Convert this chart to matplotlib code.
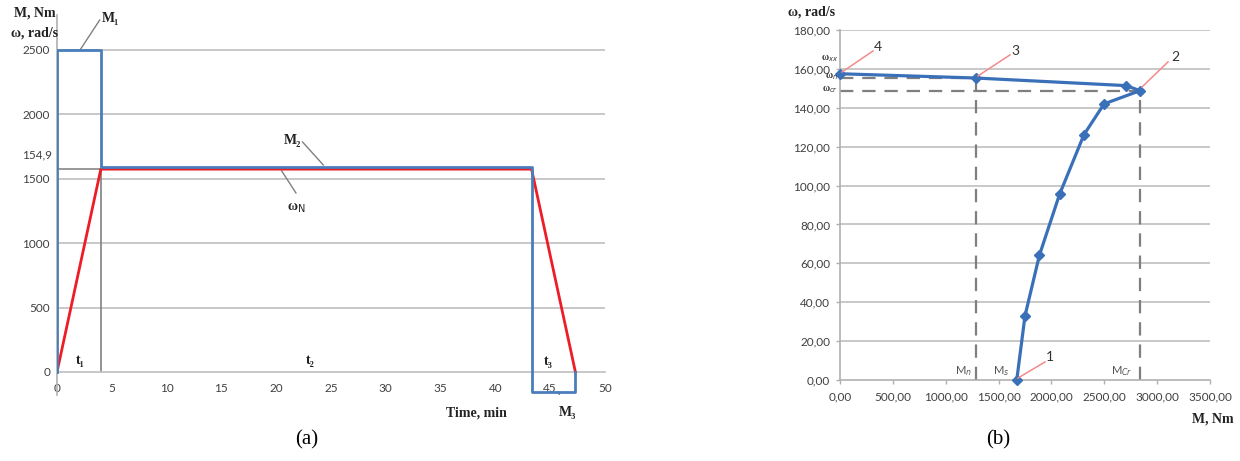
import matplotlib
matplotlib.use("Agg")
import matplotlib.pyplot as plt
from matplotlib.ticker import FuncFormatter

# ---------------- data: chart (a) ----------------
t_M = [0, 0, 4, 4, 43.3, 43.3, 47.3, 47.3]          # time, min
M_vals = [0, 2500, 2500, 1595, 1595, -155, -155, 0]  # torque, Nm
t_w = [0, 4, 43.3, 47.3]
w_vals = [0, 1575, 1575, 0]                          # speed (scaled)
yticks_a = [0, 500, 1000, 1500, 2000, 2500]
xticks_a = [0, 5, 10, 15, 20, 25, 30, 35, 40, 45, 50]

# ---------------- data: chart (b) ----------------
M_curve = [1672, 1750, 1887, 2077, 2308, 2498, 2838, 2706, 1287, 0]
w_curve = [0.0, 33.0, 64.3, 95.5, 126.2, 142.0, 148.8, 151.4, 155.3, 157.5]
M_nom, w_nom = 1287, 155.3
M_cr, w_cr = 2838, 148.8
yticks_b = [0, 20, 40, 60, 80, 100, 120, 140, 160, 180]
xticks_b = [0, 500, 1000, 1500, 2000, 2500, 3000, 3500]

W, H = 1240, 461
fig = plt.figure(figsize=(W / 100, H / 100), dpi=100)
fig.patch.set_facecolor("white")

BLUE = "#4a7ebb"
RED = "#ee1c25"
GRID = "#c4c4c4"
TICKC = "#404040"
SERIF = ["Liberation Serif", "DejaVu Serif", "DejaVu Sans"]
SANS = ["Lato", "DejaVu Sans"]

def fx(px):
    return px / W

def fy(py):
    return 1 - py / H

# ================= chart (a) =================
axa = fig.add_axes([fx(57), fy(395), fx(605) - fx(57), fy(15) - fy(395)])
axa.set_xlim(0, 50)
axa.set_ylim(-178.6, 2771.7)
for y in yticks_a[1:]:
    axa.axhline(y, color=GRID, lw=1.3, zorder=1)
axa.set_yticks(yticks_a)
axa.set_xticks(xticks_a)
for s in ["top", "right"]:
    axa.spines[s].set_visible(False)
axa.spines["left"].set_color("#b0b0b0")
axa.spines["left"].set_linewidth(1.2)
axa.spines["bottom"].set_position(("data", 0))
axa.spines["bottom"].set_color(GRID)
axa.spines["bottom"].set_linewidth(1.3)
axa.tick_params(axis="both", length=0, labelsize=8.5, colors=TICKC)
axa.tick_params(axis="x", pad=8)
axa.tick_params(axis="y", pad=5)
for lab in axa.get_xticklabels() + axa.get_yticklabels():
    lab.set_fontfamily(SANS)

# helper lines
axa.plot([4, 4], [0, w_vals[1]], color="#808080", lw=1.2, zorder=2)
axa.plot([0, 4], [w_vals[1], w_vals[1]], color="#909090", lw=1.3, zorder=2)

axa.plot(t_w, w_vals, color=RED, lw=2.0, zorder=3)
axa.plot(t_M, M_vals, color=BLUE, lw=2.0, zorder=4)

axa.text(-0.45, w_vals[1] + 110, "154,9", ha="right", va="center", fontsize=8.5,
         color=TICKC, family=SANS)

LEAD = "#808080"
bold_serif = dict(family=SERIF, fontweight="bold", color="#222222")
axa.plot([2.1, 3.9], [2500, 2733], color=LEAD, lw=1)
axa.text(4.1, 2748, "M₁", fontsize=10, va="center", **bold_serif)
axa.plot([22.4, 24.3], [1786, 1607], color=LEAD, lw=1)
axa.text(21.5, 1800, "M₂", fontsize=10, ha="center", va="center", **bold_serif)
axa.plot([20.5, 21.8], [1561, 1390], color=LEAD, lw=1)
axa.text(21.8, 1270, "ω$_{\\rm N}$", fontsize=10, ha="center", va="center", **bold_serif)
axa.text(2.1, 93, "t₁", fontsize=10, ha="center", va="center", **bold_serif)
axa.text(23.1, 93, "t₂", fontsize=10, ha="center", va="center", **bold_serif)
axa.text(44.8, 78, "t₃", fontsize=10, ha="center", va="center", **bold_serif)
axa.plot([45.7, 46.2], [-155, -233], color=LEAD, lw=1)
axa.text(46.6, -318, "M₃", fontsize=10, ha="center", va="center", **bold_serif)
axa.text(38.3, -318, "Time, min", fontsize=10, ha="center", va="center", **bold_serif)

fig.text(fx(35), fy(13), "M, Nm", fontsize=10, ha="center", va="center", **bold_serif)
fig.text(fx(35), fy(33), "ω, rad/s", fontsize=10, ha="center", va="center", **bold_serif)

# ================= chart (b) =================
axb = fig.add_axes([fx(840), fy(380), fx(1210) - fx(840), fy(30) - fy(380)])
axb.set_xlim(0, 3500)
axb.set_ylim(0, 180)
for y in yticks_b[1:]:
    axb.axhline(y, color=GRID, lw=1.3, zorder=1)
axb.set_yticks(yticks_b)
axb.set_xticks(xticks_b)
fmt = FuncFormatter(lambda v, p: f"{v:.2f}".replace(".", ","))
axb.xaxis.set_major_formatter(fmt)
axb.yaxis.set_major_formatter(fmt)
for s in ["top", "right"]:
    axb.spines[s].set_visible(False)
for s in ["left", "bottom"]:
    axb.spines[s].set_color("#b0b0b0")
    axb.spines[s].set_linewidth(1.2)
axb.tick_params(axis="both", length=3, width=1, color="#b0b0b0", labelsize=8.5,
                colors=TICKC)
axb.tick_params(axis="both", color="#b0b0b0")
axb.tick_params(axis="y", pad=4)
axb.tick_params(axis="x", pad=5)
for lab in axb.get_xticklabels() + axb.get_yticklabels():
    lab.set_fontfamily(SANS)

DASH = dict(color="#7f7f7f", lw=1.6, dashes=(6, 4), zorder=2)
axb.plot([0, M_nom], [w_nom, w_nom], **DASH)
axb.plot([M_nom, M_nom], [0, w_nom], **DASH)
axb.plot([0, M_cr], [w_cr, w_cr], **DASH)
axb.plot([M_cr, M_cr], [0, w_cr], **DASH)

axb.plot(M_curve, w_curve, color="#3a70b8", lw=2.3, marker="D", markersize=5,
         zorder=4, clip_on=False)

PINK = "#f28b8b"
num = dict(fontsize=10, ha="center", va="center", family=SANS, color="#333333")
axb.plot([1684, 1939], [1, 9.3], color=PINK, lw=1.1, zorder=5)
axb.text(1990, 12, "1", **num)
axb.plot([2857, 3103], [150.7, 163.6], color=PINK, lw=1.1, zorder=5)
axb.text(3170, 166, "2", **num)
axb.plot([1306, 1608], [156.4, 167.2], color=PINK, lw=1.1, zorder=5)
axb.text(1656, 169, "3", **num)
axb.plot([19, 312], [158.4, 169.2], color=PINK, lw=1.1, zorder=5, clip_on=False)
axb.text(360, 171.5, "4", **num)

small = dict(fontsize=7, va="center", family=SERIF, fontweight="bold",
             color="#333333", zorder=6)
axb.text(-15, 165.5, "ω$_{xx}$", ha="right", **small)
axb.text(-15, 156.5, "ω$_{n}$", ha="right", **small)
axb.text(-15, 149.5, "ω$_{cr}$", ha="right", **small)
msm = dict(fontsize=8, ha="center", va="center", family=SANS, color="#555555")
axb.text(1164, 4.5, "M$_{n}$", **msm)
axb.text(1523, 4.5, "M$_{s}$", **msm)
axb.text(2668, 4.5, "M$_{Cr}$", **msm)

fig.text(fx(812), fy(12), "ω, rad/s", fontsize=10, ha="center", va="center", **bold_serif)
fig.text(fx(1213), fy(419), "M, Nm", fontsize=10, ha="center", va="center",
         **bold_serif)

fig.text(fx(307), fy(440), "(a)", fontsize=15, ha="center", va="center", family=SERIF)
fig.text(fx(998), fy(440), "(b)", fontsize=15, ha="center", va="center", family=SERIF)

fig.savefig("out.png", dpi=100, facecolor="white")
